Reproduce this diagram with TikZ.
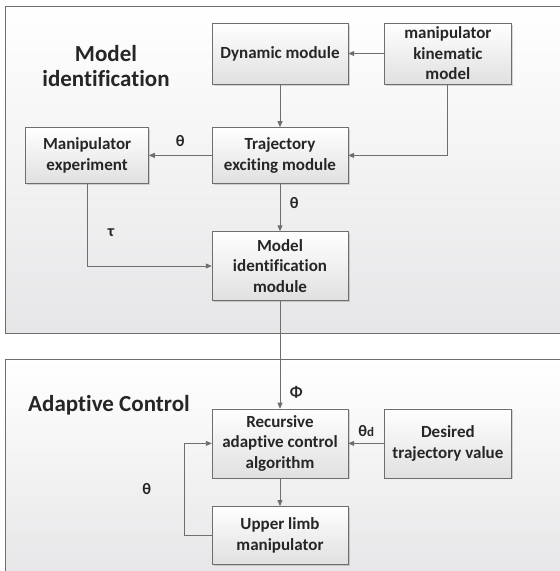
\documentclass[tikz,border=0pt]{standalone}
\usepackage{fontspec}
\setmainfont[Ligatures=NoCommon]{Carlito}
\usetikzlibrary{arrows.meta,positioning,shadows}
\definecolor{edgegray}{HTML}{6E6E6E}
\definecolor{panelgray}{HTML}{E6E6E8}
\definecolor{boxgray}{HTML}{E0E0E0}

\begin{document}
\begin{tikzpicture}[
  x=1pt, y=-1pt,
  node distance=43pt and 36pt,
  block/.style={draw=edgegray, top color=white, bottom color=boxgray, inner sep=0pt, align=center,
    font=\fontsize{17}{20.5}\selectfont\bfseries, text=black!85,
    drop shadow={shadow xshift=1.5pt, shadow yshift=-1.5pt, fill=black, opacity=0.15}},
  panel/.style={draw=edgegray, line width=1pt, top color=white, bottom color=panelgray},
  title/.style={align=left, font=\fontsize{23}{25}\selectfont\bfseries, text=black!85},
  sig/.style={font=\fontsize{16}{18}\selectfont\bfseries, text=black!85},
  arrow/.style={draw=edgegray, line width=0.9pt, -{Triangle[length=6pt,width=5pt]}}
]
\useasboundingbox (0,0) rectangle (560,571);
\clip (0,0) rectangle (560,571);

% the two panels
\path[panel] (5,6) rectangle (566,333);
\path[panel] (5,359) rectangle (566,580);
\node[title, align=center] (idtitle) at (106,66) {Model\\identification};
\node[title] (actitle) at (109,405) {Adaptive Control};

% model identification
\node[block, minimum width=136pt, minimum height=61pt] (dyn) at (280,53.5) {Dynamic module};
\node[block, minimum width=127pt, minimum height=61pt, right=36pt of dyn] (kin) {manipulator\\kinematic\\model};
\node[block, minimum width=136pt, minimum height=56pt, below=43pt of dyn] (traj) {Trajectory\\exciting module};
\node[block, minimum width=123pt, minimum height=56pt, left=63pt of traj] (exp) {Manipulator\\experiment};
\node[block, minimum width=136pt, minimum height=69pt, below=47.7pt of traj] (ident) {Model\\identification\\module};

% adaptive control
\node[block, minimum width=136pt, minimum height=69pt, below=108pt of ident] (rac) {Recursive\\adaptive control\\algorithm};
\node[block, minimum width=127pt, minimum height=69pt, right=36pt of rac] (des) {Desired\\trajectory value};
\node[block, minimum width=136pt, minimum height=58pt, below=28pt of rac] (limb) {Upper limb\\manipulator};

\draw[arrow] (kin) -- (dyn);
\draw[arrow] (dyn) -- (traj);
\draw[arrow] (kin.south) |- (traj.east);
\draw[arrow] (traj) -- node[sig, above=5pt] (thexp) {θ} (exp);
\draw[arrow] (exp.south) |- node[sig, pos=0.3, right=17pt] (tau) {τ} (ident.west);
\draw[arrow] (traj) -- node[sig, right=6pt, pos=0.4] (thid) {θ} (ident);
\draw[arrow] (ident) -- node[sig, right=6pt, pos=0.85] (phi) {Φ} (rac);
\draw[arrow] (des) -- node[sig, above=3pt] (thd) {θ\fontsize{13}{14}\selectfont d} (rac);
\draw[arrow] (rac) -- (limb);
\draw[arrow] (limb.west) -- ++(-27pt,0) |- node[sig, pos=0.25, left=30pt] (thfb) {θ} (rac.west);
\end{tikzpicture}
\end{document}
